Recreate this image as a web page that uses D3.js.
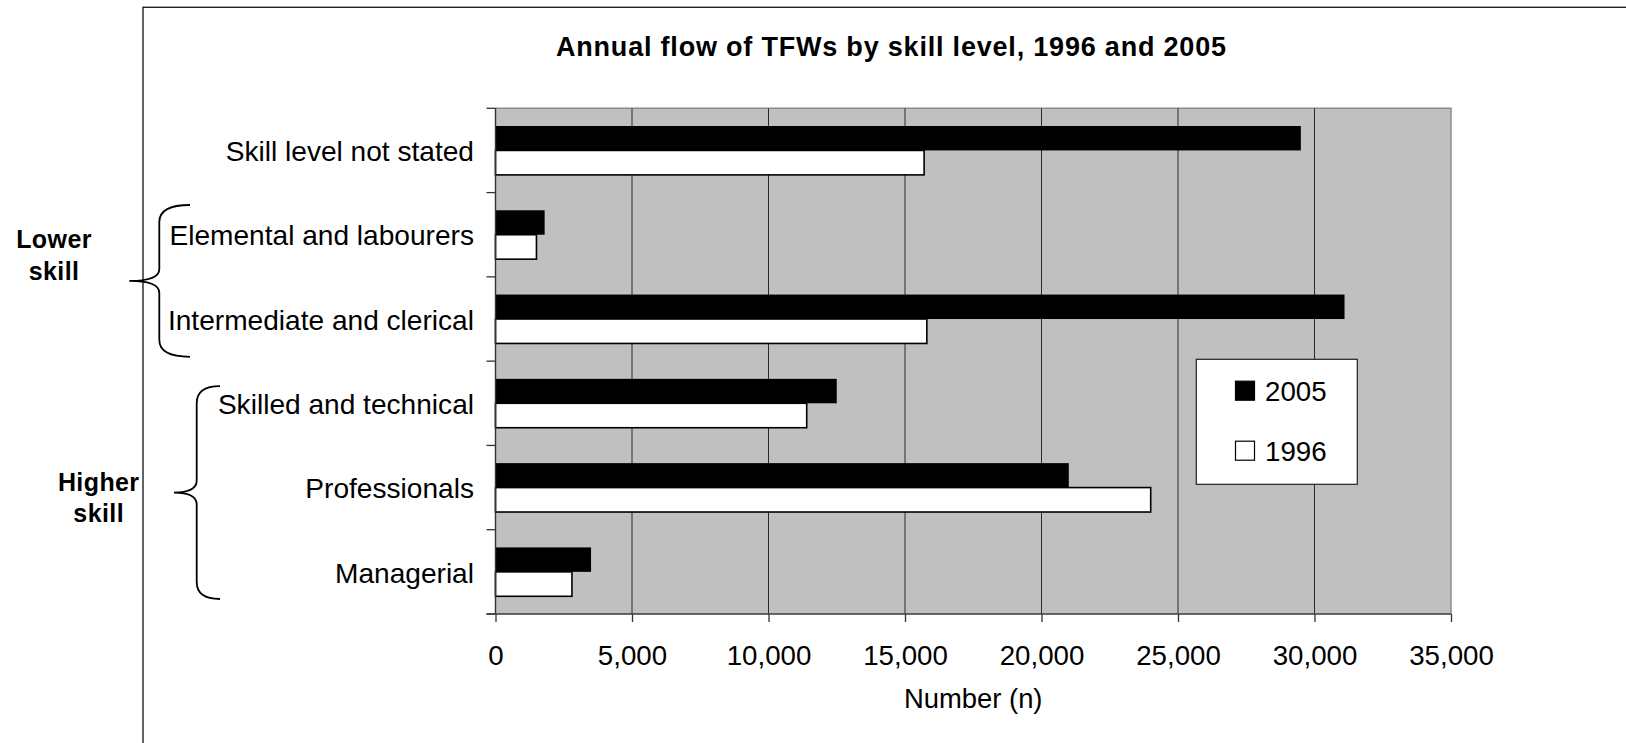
<!DOCTYPE html>
<html>
<head>
<meta charset="utf-8">
<script src="https://cdn.jsdelivr.net/npm/d3@7"></script>
<style>
  html, body { margin: 0; padding: 0; background: #ffffff; }
  svg { display: block; font-family: "Liberation Sans", Arial, Helvetica, sans-serif; }
</style>
</head>
<body>
<svg id="chart" width="1626" height="743"></svg>
<script>
// ---- data ----
const categories = [
  "Skill level not stated",
  "Elemental and labourers",
  "Intermediate and clerical",
  "Skilled and technical",
  "Professionals",
  "Managerial"
];
const seriesNames = ["2005", "1996"];
const values2005 = [29500, 1800, 31100, 12500, 21000, 3500];
const values1996 = [15700, 1500, 15800, 11400, 24000, 2800];
const xTicks = [0, 5000, 10000, 15000, 20000, 25000, 30000, 35000];
const titleText = "Annual flow of TFWs by skill level, 1996 and 2005";
const xAxisTitle = "Number (n)";
const groupLabels = [["Lower", "skill"], ["Higher", "skill"]];
const groupCategories = [
  ["Elemental and labourers", "Intermediate and clerical"],
  ["Skilled and technical", "Professionals", "Managerial"]
];

// ---- layout ----
const W = 1626, H = 743;
const plot = { left: 495.5, right: 1451, top: 108.3, bottom: 614 };
const labelFont = 28.1;
const seriesFill = { "2005": "#000000", "1996": "#ffffff" };

const svg = d3.select("#chart");
svg.append("rect").attr("width", W).attr("height", H).attr("fill", "#ffffff");

// outer chart frame (extends past the right and bottom edges)
svg.append("rect")
  .attr("x", 143).attr("y", 7.3)
  .attr("width", 1700).attr("height", 900)
  .attr("fill", "none").attr("stroke", "#222").attr("stroke-width", 1.4);

const x = d3.scaleLinear().domain([0, 35000]).range([plot.left, plot.right]);
const y = d3.scaleBand().domain(categories)
  .range([plot.top, plot.bottom]).paddingInner(0.42).paddingOuter(0.21);
const ySub = d3.scaleBand().domain(seriesNames).range([0, y.bandwidth()]);

// plot background
svg.append("rect")
  .attr("x", plot.left).attr("y", plot.top)
  .attr("width", plot.right - plot.left).attr("height", plot.bottom - plot.top)
  .attr("fill", "#c0c0c0");

// plot border (top and right)
svg.append("path")
  .attr("d", `M${plot.left},${plot.top}H${plot.right}V${plot.bottom}`)
  .attr("fill", "none").attr("stroke", "#8a8a8a").attr("stroke-width", 1.5);

// vertical gridlines
svg.append("g").selectAll("line")
  .data(xTicks.filter(d => d > 0 && d < 35000))
  .join("line")
  .attr("x1", d => x(d)).attr("x2", d => x(d))
  .attr("y1", plot.top).attr("y2", plot.bottom)
  .attr("stroke", "#2a2a2a").attr("stroke-width", 1);

// bars
const rows = categories.map((c, i) => ({ cat: c, "2005": values2005[i], "1996": values1996[i] }));
const barG = svg.append("g");
rows.forEach(r => {
  seriesNames.forEach(s => {
    barG.append("rect")
      .attr("x", x(0))
      .attr("y", y(r.cat) + ySub(s))
      .attr("width", x(r[s]) - x(0))
      .attr("height", ySub.bandwidth())
      .attr("fill", seriesFill[s])
      .attr("stroke", s === "1996" ? "#000" : "none")
      .attr("stroke-width", 1.6);
  });
});

// category axis line and boundary ticks
svg.append("line")
  .attr("x1", plot.left).attr("x2", plot.left)
  .attr("y1", plot.top).attr("y2", plot.bottom)
  .attr("stroke", "#333").attr("stroke-width", 1.4);
const boundaries = d3.range(categories.length + 1).map(i => plot.top + i * y.step());
svg.append("g").selectAll("line")
  .data(boundaries)
  .join("line")
  .attr("x1", plot.left - 9).attr("x2", plot.left)
  .attr("y1", d => d).attr("y2", d => d)
  .attr("stroke", "#333").attr("stroke-width", 1.3);

// category labels
const yAxis = svg.append("g")
  .attr("transform", `translate(${plot.left},0)`)
  .call(d3.axisLeft(y).tickSize(0).tickPadding(21.5));
yAxis.select(".domain").remove();
yAxis.selectAll("text")
  .attr("dy", "0.38em")
  .attr("fill", "#000")
  .style("font-size", labelFont + "px")
  .style("font-family", '"Liberation Sans", Arial, sans-serif');

// value axis
const xAxis = svg.append("g")
  .attr("transform", `translate(0,${plot.bottom})`)
  .call(d3.axisBottom(x).tickValues(xTicks).tickFormat(d3.format(","))
    .tickSize(8).tickPadding(23));
xAxis.select(".domain").remove();
xAxis.selectAll(".tick line").attr("stroke", "#333").attr("stroke-width", 1.3);
xAxis.selectAll("text")
  .attr("fill", "#000")
  .style("font-size", "27.7px")
  .style("font-family", '"Liberation Sans", Arial, sans-serif');
svg.append("line")
  .attr("x1", plot.left - 9).attr("x2", plot.right)
  .attr("y1", plot.bottom).attr("y2", plot.bottom)
  .attr("stroke", "#3a3a3a").attr("stroke-width", 1.6);

// axis title
svg.append("text")
  .attr("x", (plot.left + plot.right) / 2).attr("y", 708)
  .attr("text-anchor", "middle")
  .style("font-size", "27.4px")
  .text(xAxisTitle);

// chart title
svg.append("text")
  .attr("x", 891).attr("y", 56)
  .attr("text-anchor", "middle")
  .attr("textLength", 670).attr("lengthAdjust", "spacing")
  .style("font-size", "27px").style("font-weight", "bold")
  .text(titleText);

// legend
const legend = svg.append("g");
legend.append("rect")
  .attr("x", 1196.3).attr("y", 359.3).attr("width", 161).attr("height", 125)
  .attr("fill", "#fff").attr("stroke", "#222").attr("stroke-width", 1.2);
seriesNames.forEach((s, i) => {
  const baseY = 400.7 + i * 60;
  legend.append("rect")
    .attr("x", 1235.5).attr("y", baseY - 19.5).attr("width", 19).attr("height", 19)
    .attr("fill", seriesFill[s]).attr("stroke", "#000").attr("stroke-width", 1.2);
  legend.append("text")
    .attr("x", 1265).attr("y", baseY)
    .style("font-size", "27.7px")
    .text(s);
});

// skill-group braces and labels
const braceLayout = [
  { insetTop: 12.4, insetBottom: 4.3, xEnd: 190, xV: 159.3, xTip: 129.3, labelX: 54, labelY: [248.3, 280] },
  { insetTop: 25, insetBottom: 15, xEnd: 220, xV: 196.7, xTip: 174, labelX: 98.7, labelY: [490.7, 521.7] }
];
function bracePath(b, y1, y2) {
  const ym = (y1 + y2) / 2, ry = 17, ry2 = 12;
  return `M${b.xEnd},${y1}Q${b.xV},${y1} ${b.xV},${y1 + ry}` +
    `L${b.xV},${ym - ry2}Q${b.xV},${ym} ${b.xTip},${ym}` +
    `Q${b.xV},${ym} ${b.xV},${ym + ry2}` +
    `L${b.xV},${y2 - ry}Q${b.xV},${y2} ${b.xEnd},${y2}`;
}
groupCategories.forEach((cats, gi) => {
  const b = braceLayout[gi];
  const first = categories.indexOf(cats[0]);
  const last = categories.indexOf(cats[cats.length - 1]);
  const y1 = boundaries[first] + b.insetTop;
  const y2 = boundaries[last + 1] - b.insetBottom;
  svg.append("path")
    .attr("d", bracePath(b, y1, y2))
    .attr("fill", "none").attr("stroke", "#000").attr("stroke-width", 1.8);
  groupLabels[gi].forEach((line, li) => {
    svg.append("text")
      .attr("x", b.labelX).attr("y", b.labelY[li])
      .attr("text-anchor", "middle")
      .style("font-size", "25px").style("font-weight", "bold")
      .style("letter-spacing", "0.4px")
      .text(line);
  });
});
</script>
</body>
</html>
